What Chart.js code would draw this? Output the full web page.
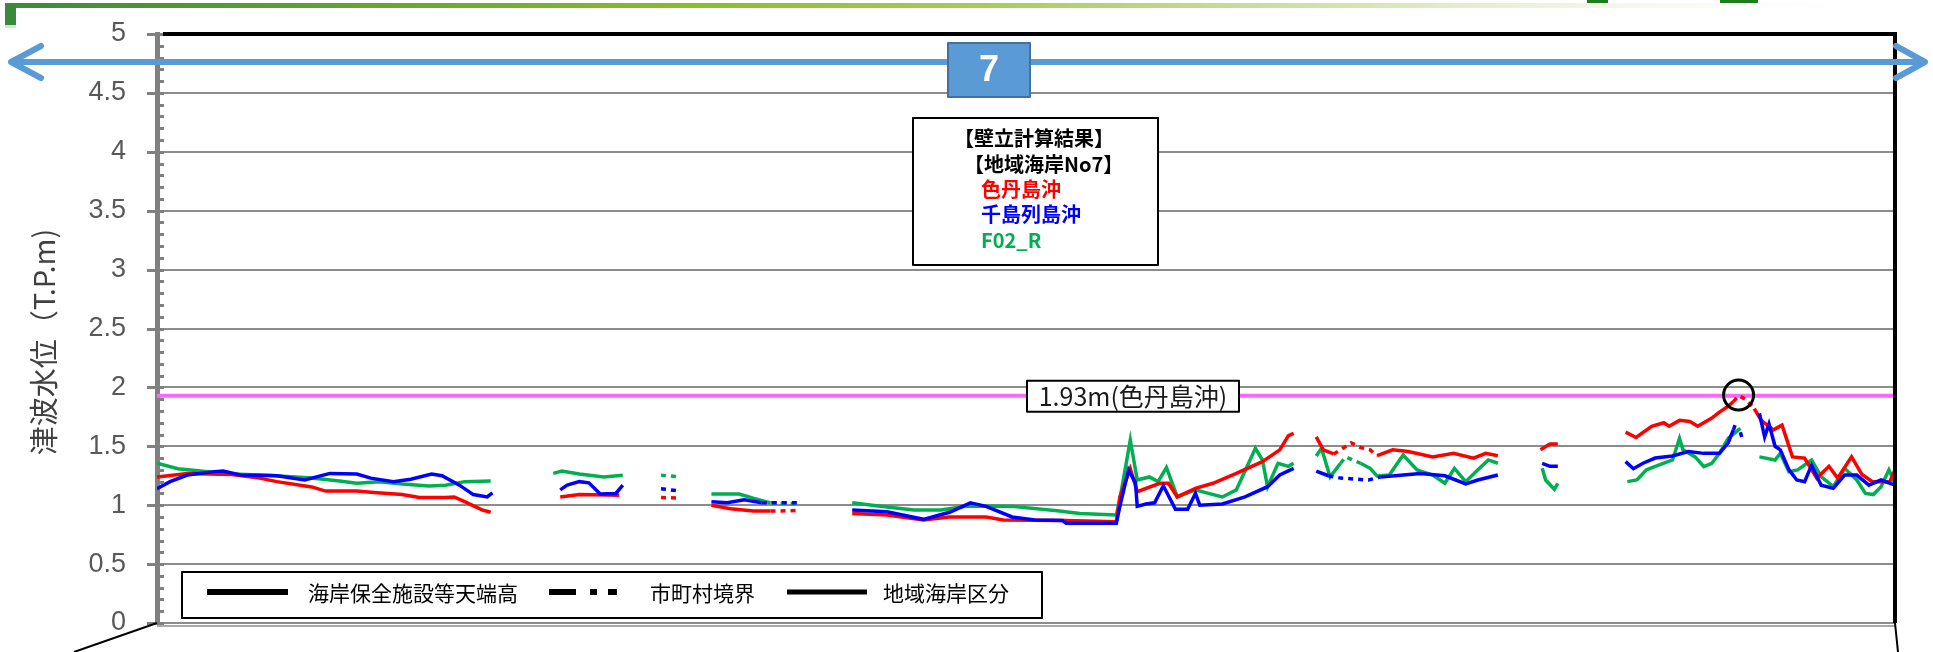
<!DOCTYPE html>
<html lang="ja">
<head>
<meta charset="utf-8">
<title>津波水位</title>
<script src="https://cdn.jsdelivr.net/npm/chart.js@4.4.1/dist/chart.umd.min.js"></script>
<style>
  html, body { margin: 0; padding: 0; background: #fff; overflow: hidden; }
  #wrap { width: 1933px; height: 652px; position: relative; }
</style>
</head>
<body>
<div id="wrap"><canvas id="chart" width="1933" height="652"></canvas></div>
<script>
// 系列名と色
const seriesNames = ["色丹島沖", "千島列島沖", "F02_R"];
const seriesColors = ["#FF0000", "#0000FF", "#00B050"];

// 目盛り
const yTickLabels = ["0", "0.5", "1", "1.5", "2", "2.5", "3", "3.5", "4", "4.5", "5"];
const yTitle = "津波水位（T.P.m)";

// 最大水位
const targetLevel = 1.93;
const targetLabel = "1.93m(色丹島沖)";
const peakPoint = [910, 1.935];

// テキスト
const sectionNo = "7";
const infoLines = ["【壁立計算結果】", "【地域海岸No7】"];
const legendItems = ["海岸保全施設等天端高", "市町村境界", "地域海岸区分"];

// 点線で見える区間
const dottedShikotan = [[286, 305], [348, 372], [673, 700], [905, 916]];
const dottedChishima = [[286, 305], [348, 372], [672, 700], [905, 916]];
const dottedF02r = [[286, 305], [348, 372], [676, 690]];

// 色丹島沖 (null = 途切れ)
const shikotan = [
  [0, 1.24], [17.5, 1.27], [43, 1.26], [59, 1.23], [69, 1.2], [89, 1.155], [97, 1.12], [115, 1.12], [123, 1.11],
  [141, 1.09], [151, 1.065], [166, 1.066], [171, 1.07], [177, 1.03], [187, 0.96], [192, 0.94],
  null,
  [232, 1.07], [243, 1.09], [266, 1.085],
  null,
  [290, 1.065], [301, 1.06],
  null,
  [319, 1.0], [330, 0.97], [343, 0.95], [353, 0.95], [370, 0.955],
  null,
  [400, 0.93], [420, 0.917], [441, 0.875], [456, 0.9], [477, 0.9], [487, 0.875], [523, 0.87], [552, 0.86],
  [554, 1.07], [560, 1.31], [564, 1.115], [577, 1.186], [582, 1.186], [587, 1.07], [597.5, 1.143], [607.6, 1.186],
  [621, 1.27], [636, 1.37], [646, 1.47], [651, 1.59], [654, 1.61],
  null,
  [667, 1.58], [671, 1.47], [677, 1.435], [681, 1.47], [687, 1.53], [692.5, 1.49], [698, 1.47], [702, 1.42],
  [711, 1.47], [720, 1.455], [734, 1.41], [746, 1.44], [757.5, 1.4], [764.5, 1.44], [771.5, 1.42],
  null,
  [796, 1.47], [801.5, 1.52], [806, 1.52],
  null,
  [845, 1.62], [851, 1.575], [860, 1.67], [867, 1.7], [870, 1.67], [876, 1.72], [882, 1.71], [886.5, 1.67],
  [894.6, 1.74], [899, 1.79], [904, 1.84], [907, 1.88], [910, 1.93], [914, 1.9], [919, 1.82], [923, 1.72],
  [930, 1.64], [935, 1.68], [941, 1.41], [948, 1.4], [955, 1.23], [962, 1.33], [967, 1.23], [975, 1.41],
  [981, 1.26], [987, 1.2], [997, 1.2], [1000, 1.3]
];

// 千島列島沖
const chishima = [
  [0, 1.14], [7.5, 1.2], [17.5, 1.256], [33, 1.285], [38, 1.29], [48, 1.256], [69, 1.25], [85, 1.214], [99.5, 1.27],
  [115, 1.265], [123, 1.23], [136, 1.2], [146, 1.22], [158, 1.265], [164, 1.25], [174, 1.17], [182, 1.09], [190, 1.07], [193, 1.105],
  null,
  [232, 1.13], [236, 1.17], [243, 1.2], [248.5, 1.19], [255, 1.095], [264, 1.1], [268, 1.17],
  null,
  [290, 1.14], [301, 1.12],
  null,
  [319, 1.03], [328, 1.02], [338, 1.045], [348, 1.02], [361, 1.02], [370, 1.02],
  null,
  [400, 0.96], [420, 0.945], [441, 0.88], [456, 0.94], [468, 1.02], [477, 0.99], [492, 0.9], [505, 0.875], [521, 0.87],
  [523, 0.846], [552, 0.846], [554, 0.99], [559, 1.3], [563, 1.19], [564, 0.99], [569, 1.01], [574, 1.02], [579, 1.165],
  [586, 0.965], [593, 0.965], [597.5, 1.1], [600, 1.0], [613, 1.01], [626, 1.07], [639, 1.157], [646, 1.256], [654, 1.313],
  null,
  [667, 1.29], [674, 1.25], [681, 1.23], [697, 1.214], [704, 1.24], [727, 1.27], [741, 1.25], [753, 1.18], [760, 1.214], [771.5, 1.256],
  null,
  [797, 1.355], [801.5, 1.33], [806, 1.33],
  null,
  [845, 1.37], [849.5, 1.31], [855, 1.356], [862, 1.4], [872, 1.418], [881, 1.455], [890, 1.44], [899, 1.44],
  [904, 1.53], [907, 1.64], [908.5, 1.7],
  null,
  [911, 1.62], [912, 1.57],
  null,
  [922, 1.78], [925, 1.58], [927.5, 1.69], [931, 1.5], [934, 1.47], [939, 1.3], [943.5, 1.214], [948, 1.2], [952, 1.34],
  [957.5, 1.17], [964.5, 1.143], [971, 1.256], [978, 1.256], [985, 1.17], [992, 1.214], [1000, 1.17]
];

// F02_R
const f02r = [
  [0, 1.356], [12, 1.31], [25, 1.29], [43, 1.265], [64, 1.255], [89, 1.23], [105, 1.205], [115, 1.186], [128, 1.2],
  [141, 1.18], [156.5, 1.163], [166, 1.17], [177, 1.2], [192, 1.205],
  null,
  [228, 1.27], [233, 1.29], [243, 1.265], [257, 1.24], [268, 1.255],
  null,
  [290, 1.255], [301, 1.24],
  null,
  [319, 1.095], [335, 1.095], [343, 1.06], [353, 1.02], [370, 1.01],
  null,
  [400, 1.02], [415, 0.993], [435.5, 0.96], [451, 0.96], [466.6, 0.993], [492, 0.99], [518, 0.953], [531, 0.93], [552, 0.917],
  [554, 1.05], [560, 1.553], [564, 1.214], [571, 1.24], [576, 1.2], [580.8, 1.32], [587, 1.072], [597.5, 1.13], [605, 1.1],
  [613, 1.07], [621, 1.13], [632, 1.483], [636, 1.384], [639, 1.157], [645, 1.356], [651, 1.33], [654, 1.356],
  null,
  [667, 1.418], [670, 1.483], [675, 1.24], [681, 1.356], [684, 1.41], [692.5, 1.356], [698, 1.313], [702, 1.248],
  [709, 1.256], [717, 1.426], [725, 1.3], [734, 1.256], [741, 1.186], [746.5, 1.313], [753, 1.2], [760, 1.3], [766, 1.384], [771.5, 1.356],
  null,
  [797, 1.313], [799, 1.214], [804, 1.135], [806, 1.186],
  null,
  [846, 1.2], [851.5, 1.214], [857, 1.3], [864, 1.34], [872, 1.384], [876, 1.568], [878, 1.47], [885, 1.41], [890, 1.327],
  [894.6, 1.356], [899, 1.44], [904, 1.568], [911, 1.653],
  null,
  [922, 1.41], [931, 1.384], [934, 1.44], [939, 1.284], [944, 1.3], [952, 1.384], [957.5, 1.242], [964.5, 1.157],
  [971, 1.313], [978, 1.214], [983, 1.1], [987.5, 1.09], [992, 1.157], [996.5, 1.3], [1000, 1.186]
];

// [x, y] を Chart.js の点に変換 (null は線を切る)
const toXY = (pts) => {
  let lastX = 0;
  return pts.map((p) => {
    if (!p) return { x: lastX + 0.5, y: null };
    lastX = p[0];
    return { x: p[0], y: p[1] };
  });
};

const JP = '"Noto Sans CJK JP", "Noto Sans", sans-serif';
const NUM = '"Liberation Sans", Arial, sans-serif';

// 装飾 (矢印、枠、凡例など)
const decoPlugin = {
  id: "deco",
  beforeDraw(chart) {
    const ctx = chart.ctx;
    ctx.save();
    ctx.fillStyle = "#fff";
    ctx.fillRect(0, 0, chart.width, chart.height);
    // 上のグリーンの帯
    const g = ctx.createLinearGradient(5, 0, 1900, 0);
    g.addColorStop(0, "#3b8a3b");
    g.addColorStop(0.367, "#8cbd2c");
    g.addColorStop(0.525, "#a9cc5e");
    g.addColorStop(0.736, "#dbe7bd");
    g.addColorStop(1, "rgba(255,255,255,0)");
    ctx.fillStyle = g;
    ctx.fillRect(5, 3, 1895, 5);
    ctx.fillStyle = "#3b8a3b";
    ctx.fillRect(5, 3, 11, 22);
    ctx.fillStyle = "#c6efce";
    ctx.fillRect(5, 25, 11, 3);
    ctx.fillStyle = "#1e7b1e";
    ctx.fillRect(1587, 0, 21, 3);
    ctx.fillRect(1720, 0, 38, 3);
    ctx.restore();
  },
  afterDraw(chart) {
    const ctx = chart.ctx;
    const area = chart.chartArea;
    const xs = chart.scales.x;
    const ys = chart.scales.y;
    ctx.save();

    // 目盛り (主目盛りは軸の両側、補助目盛りは内側)
    ctx.strokeStyle = "#808080";
    ctx.lineWidth = 3;
    for (let i = 0; i <= 50; i++) {
      const y = Math.round(ys.getPixelForValue(i / 10)) + 0.5;
      ctx.beginPath();
      ctx.moveTo(i % 5 === 0 ? area.left - 10 : area.left, y);
      ctx.lineTo(area.left + 7, y);
      ctx.stroke();
    }

    // 下の二重線
    ctx.lineWidth = 1.5;
    ctx.strokeStyle = "#8c8c8c";
    ctx.beginPath();
    ctx.moveTo(area.left, area.bottom + 3);
    ctx.lineTo(area.right, area.bottom + 3);
    ctx.stroke();

    // 枠線
    ctx.strokeStyle = "#000";
    ctx.lineWidth = 4;
    ctx.beginPath();
    ctx.moveTo(area.left + 6, area.top);
    ctx.lineTo(area.right, area.top);
    ctx.lineTo(area.right, area.bottom);
    ctx.stroke();
    ctx.lineWidth = 2;
    ctx.beginPath();
    ctx.moveTo(area.left, area.bottom);
    ctx.lineTo(74, chart.height);
    ctx.moveTo(area.right, area.bottom);
    ctx.lineTo(area.right + 3, chart.height);
    ctx.stroke();

    // 縦軸タイトル
    ctx.save();
    ctx.translate(44, 342);
    ctx.rotate(-Math.PI / 2);
    ctx.fillStyle = "#404040";
    ctx.font = "29px " + JP;
    ctx.textAlign = "center";
    ctx.textBaseline = "middle";
    ctx.fillText(yTitle, 0, 0);
    ctx.restore();

    // 青い両矢印
    const ay = 62;
    ctx.strokeStyle = "#5B9BD5";
    ctx.lineWidth = 6;
    ctx.lineCap = "round";
    ctx.lineJoin = "round";
    ctx.beginPath();
    ctx.moveTo(11, ay);
    ctx.lineTo(1924, ay);
    ctx.moveTo(41, ay - 16);
    ctx.lineTo(11, ay);
    ctx.lineTo(41, ay + 16);
    ctx.moveTo(1896, ay - 16);
    ctx.lineTo(1925, ay);
    ctx.lineTo(1896, ay + 16);
    ctx.stroke();
    ctx.lineCap = "butt";

    // 区間番号
    ctx.fillStyle = "#5B9BD5";
    ctx.fillRect(948, 43, 82, 54);
    ctx.strokeStyle = "#41719C";
    ctx.lineWidth = 2;
    ctx.strokeRect(948, 43, 82, 54);
    ctx.fillStyle = "#fff";
    ctx.font = "bold 36px " + NUM;
    ctx.textAlign = "center";
    ctx.textBaseline = "middle";
    ctx.fillText(sectionNo, 989, 71);

    // 計算結果の枠
    ctx.fillStyle = "#fff";
    ctx.fillRect(913, 118, 245, 147);
    ctx.strokeStyle = "#000";
    ctx.lineWidth = 2;
    ctx.strokeRect(913, 118, 245, 147);
    ctx.textAlign = "left";
    ctx.font = "bold 20px " + JP;
    ctx.fillStyle = "#000";
    ctx.fillText(infoLines[0], 954, 138);
    ctx.fillText(infoLines[1], 964, 164);
    [189, 214, 240].forEach((y, i) => {
      ctx.fillStyle = seriesColors[i];
      ctx.fillText(seriesNames[i], 981, y);
    });

    // 最大値ラベル
    const ly = ys.getPixelForValue(targetLevel);
    ctx.fillStyle = "#fff";
    ctx.fillRect(1027, ly - 15, 212, 31);
    ctx.strokeStyle = "#000";
    ctx.lineWidth = 2;
    ctx.strokeRect(1027, ly - 15, 212, 31);
    ctx.fillStyle = "#1a1a1a";
    ctx.font = "25px " + JP;
    ctx.textAlign = "center";
    ctx.fillText(targetLabel, 1133, ly + 1);

    // 最大値の丸
    ctx.strokeStyle = "#000";
    ctx.lineWidth = 3;
    ctx.beginPath();
    ctx.arc(xs.getPixelForValue(peakPoint[0]), ys.getPixelForValue(peakPoint[1]), 15, 0, Math.PI * 2);
    ctx.stroke();

    // 下の凡例
    ctx.fillStyle = "#fff";
    ctx.fillRect(182, 572, 860, 46);
    ctx.strokeStyle = "#000";
    ctx.lineWidth = 2;
    ctx.strokeRect(182, 572, 860, 46);
    const lgY = 592;
    ctx.lineWidth = 6;
    ctx.beginPath();
    ctx.moveTo(207, lgY);
    ctx.lineTo(288, lgY);
    ctx.stroke();
    ctx.setLineDash([27, 14, 7, 11]);
    ctx.beginPath();
    ctx.moveTo(549, lgY);
    ctx.lineTo(617, lgY);
    ctx.stroke();
    ctx.setLineDash([]);
    ctx.lineWidth = 5;
    ctx.beginPath();
    ctx.moveTo(787, lgY);
    ctx.lineTo(867, lgY);
    ctx.stroke();
    ctx.fillStyle = "#000";
    ctx.font = "21px " + JP;
    ctx.textAlign = "left";
    ctx.fillText(legendItems[0], 308, lgY + 1);
    ctx.fillText(legendItems[1], 650, lgY + 1);
    ctx.fillText(legendItems[2], 883, lgY + 1);

    ctx.restore();
  }
};

const inRanges = (x, ranges) => ranges.some((r) => x >= r[0] && x < r[1]);

const lineDs = (label, pts, color, dotted) => ({
  label: label,
  data: toXY(pts),
  borderColor: color,
  backgroundColor: color,
  borderWidth: 3.5,
  pointRadius: 0,
  tension: 0,
  spanGaps: false,
  segment: {
    borderDash: (c) => (inRanges(c.p0.parsed.x, dotted) ? [5, 5] : undefined)
  }
});

const ctx = document.getElementById("chart");
const chart = new Chart(ctx, {
  type: "line",
  data: {
    datasets: [
      lineDs(seriesNames[1], chishima, seriesColors[1], dottedChishima),
      lineDs(seriesNames[0], shikotan, seriesColors[0], dottedShikotan),
      lineDs(seriesNames[2], f02r, seriesColors[2], dottedF02r),
      {
        label: targetLabel,
        data: [{ x: 0, y: targetLevel }, { x: 1002, y: targetLevel }],
        borderColor: "#FF66FF",
        borderWidth: 4,
        pointRadius: 0
      }
    ]
  },
  options: {
    responsive: false,
    animation: false,
    devicePixelRatio: 1,
    layout: { padding: { left: 0, top: 34, right: 38, bottom: 29 } },
    plugins: { legend: { display: false }, tooltip: { enabled: false } },
    scales: {
      x: { type: "linear", min: 0, max: 1000, display: false },
      y: {
        min: 0,
        max: 5,
        afterFit: (scale) => { scale.width = 157; },
        ticks: {
          stepSize: 0.5,
          padding: 1,
          color: "#595959",
          font: { family: NUM, size: 27 },
          callback: (v) => yTickLabels[Math.round(v * 2)]
        },
        grid: { color: "#8c8c8c", lineWidth: 2, tickLength: 30, tickColor: "rgba(0,0,0,0)" },
        border: { color: "#808080", width: 5 }
      }
    }
  },
  plugins: [decoPlugin]
});
</script>
</body>
</html>
